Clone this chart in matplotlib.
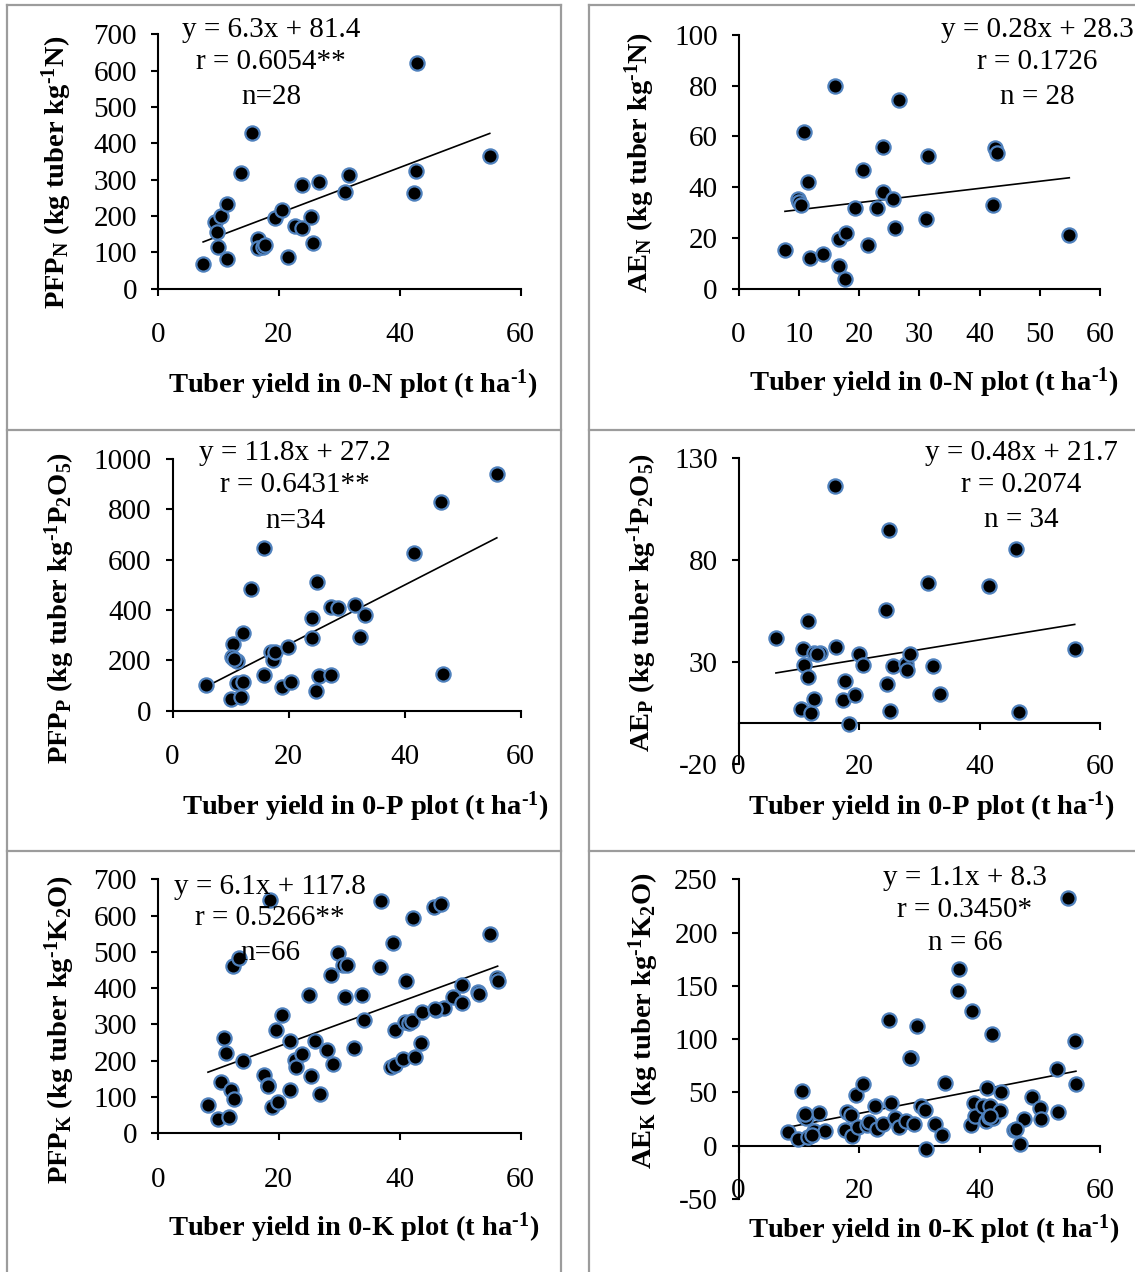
import matplotlib
matplotlib.use("Agg")
import matplotlib.pyplot as plt
from matplotlib.lines import Line2D
import numpy as np

plt.rcParams['font.family'] = ['Liberation Serif', 'DejaVu Serif']
plt.rcParams['mathtext.fontset'] = 'custom'
plt.rcParams['mathtext.rm'] = 'Liberation Serif'
plt.rcParams['mathtext.bf'] = 'Liberation Serif:bold'
plt.rcParams['mathtext.it'] = 'Liberation Serif:italic'
plt.rcParams['axes.unicode_minus'] = False

W, H = 1135, 1272

# ---------------- data ----------------
xN_pfp = [7.5, 9.5, 9.8, 10.0, 10.5, 11.5, 11.5, 13.8, 15.6, 16.6, 16.6, 17.4, 17.7, 19.3,
          20.5, 21.5, 22.7, 23.8, 23.9, 25.4, 25.6, 26.7, 30.9, 31.6, 42.3, 42.7, 42.9, 54.9]
pfpN = [68, 184, 157, 114, 200, 232, 82, 319, 429, 136, 111, 116, 120, 194,
        216, 88, 173, 284, 166, 196, 126, 294, 267, 314, 264, 324, 620, 364]

xN_ae = [7.7, 9.8, 10.0, 10.3, 10.8, 11.6, 11.8, 14.0, 16.0, 16.6, 16.6, 17.6, 17.8, 19.4,
         20.7, 21.5, 22.9, 24.0, 24.0, 25.7, 25.9, 26.7, 31.1, 31.4, 42.2, 42.6, 42.9, 54.9]
aeN = [15.2, 35.2, 34.3, 33, 61.8, 42.1, 12.2, 13.6, 80, 19.4, 9, 3.9, 21.8, 31.6,
       46.7, 17.2, 31.9, 55.8, 38, 35.3, 24, 74.3, 27.6, 52.2, 33.1, 55.2, 53.3, 21.1]

xP_pfp = [5.7, 10.0, 10.4, 10.2, 11.1, 11.2, 11.8, 12.1, 12.2, 13.5, 15.7, 15.8, 17.0, 17.4,
          17.6, 18.8, 19.9, 20.5, 24.0, 24.0, 24.9, 24.7, 25.3, 27.4, 27.3, 28.5, 31.5, 32.3,
          33.2, 41.6, 46.2, 46.7, 55.9, 10.6]
pfpP = [102, 46, 264, 215, 197, 111, 53, 115, 310, 483, 645, 142, 234, 201,
        234, 93, 254, 115, 367, 288, 513, 78, 138, 411, 142, 409, 420, 294,
        380, 625, 830, 144, 939, 205]

xP_ae = [6.2, 10.3, 10.7, 10.9, 11.6, 11.6, 12.0, 12.5, 12.5, 13.5, 16.0, 16.1, 17.3, 17.6,
         18.3, 19.3, 20.0, 20.7, 24.4, 24.6, 25.0, 25.1, 25.6, 27.8, 27.9, 28.4, 31.4, 32.3,
         33.4, 41.6, 46.0, 46.6, 55.8, 13.0]
aeP = [41.7, 6.8, 36.3, 28.6, 50.2, 22.8, 4.9, 11.9, 34.3, 34.3, 116.2, 37.3, 11.4, 20.9,
       -0.5, 13.9, 34, 28.6, 55.4, 19.2, 94.7, 6, 28.1, 28.9, 26.1, 34.2, 68.9, 28,
       14.5, 67.1, 85.5, 5.6, 36.4, 33.8]

xK_pfp = [8.3, 9.9, 10.5, 10.9, 11.2, 11.8, 12.1, 12.6, 12.4, 13.5,
          14.1, 17.6, 18.3, 18.6, 18.9, 19.8, 19.6, 20.6, 21.8, 21.8,
          22.7, 22.8, 23.9, 25.0, 25.4, 26.0, 26.9, 28.0, 28.7, 29.0,
          29.8, 30.6, 31.3, 31.0, 32.5, 33.7, 34.1, 36.7, 36.9, 38.6,
          39.2, 38.9, 39.2, 40.5, 40.8, 41.1, 41.6, 42.0, 42.2, 42.5,
          43.5, 43.7, 45.7, 46.0, 46.9, 47.3, 48.8, 50.3, 50.3, 52.9,
          53.2, 54.9, 56.1, 56.2, 45.9, 18.2]
pfpK = [78, 39, 142, 264, 220, 44, 119, 94, 461, 482,
        199, 161, 133, 644, 72, 85, 286, 326, 118, 255,
        202, 182, 218, 381, 158, 255, 107, 230, 436, 190,
        498, 464, 464, 377, 236, 381, 312, 457, 641, 184,
        188, 525, 285, 204, 306, 420, 305, 310, 592, 211,
        248, 335, 623, 340, 631, 344, 377, 409, 358, 390,
        384, 549, 427, 420, 343, 130]

xK_ae = [8.2, 9.8, 10.5, 10.8, 11.2, 11.6, 12.5, 13.4, 14.3, 17.6,
         18.0, 18.6, 18.8, 19.5, 19.8, 20.6, 21.4, 21.7, 22.6, 22.9,
         24.0, 24.9, 25.3, 25.9, 26.7, 27.8, 28.6, 29.1, 29.6, 30.3,
         31.0, 31.1, 32.6, 33.7, 34.3, 36.5, 36.6, 38.7, 38.6, 39.0,
         39.2, 40.5, 41.0, 41.2, 41.6, 41.7, 42.0, 42.3, 43.4, 43.5,
         45.7, 46.7, 47.3, 48.7, 50.1, 50.2, 52.8, 53.1, 54.7, 55.9,
         56.0, 41.7, 46.1, 11.0, 28.4, 12.2]
aeK = [13, 6.6, 51, 28, 26, 7.8, 14, 31, 14, 15,
       32, 29, 9, 48, 18, 58, 19, 22.5, 37, 16,
       20, 118, 40, 26, 18, 23, 82.6, 20, 112, 37,
       33.5, -3, 20, 10, 59, 145, 166, 126, 19, 40,
       28, 37.5, 23, 54, 27, 37.5, 104.5, 25.7, 32.5, 50,
       14.7, 1.5, 25.3, 45.7, 35.7, 24.7, 72, 31.6, 232, 98.6,
       57.6, 28, 16, 30, 82, 10]

slopes = [6.3, 0.28, 11.8, 0.48, 6.1, 1.1]
intercepts = [81.4, 28.3, 27.2, 21.7, 117.8, 8.3]

eq_lines = [
    ["y = 6.3x + 81.4", "r = 0.6054**", "n=28"],
    ["y = 0.28x + 28.3", "r = 0.1726", "n = 28"],
    ["y = 11.8x + 27.2", "r = 0.6431**", "n=34"],
    ["y = 0.48x + 21.7", "r = 0.2074", "n = 34"],
    ["y = 6.1x + 117.8", "r = 0.5266**", "n=66"],
    ["y = 1.1x + 8.3", "r = 0.3450*", "n = 66"],
]

HY = "\u2010"  # hyphen used in the superscript "-1"
SUP = r"$^{\mathbf{" + HY + r"1}}$"
ylabels = [
    r"PFP$_{\mathbf{N}}$ (kg tuber kg" + SUP + "N)",
    r"AE$_{\mathbf{N}}$ (kg tuber kg" + SUP + "N)",
    r"PFP$_{\mathbf{P}}$ (kg tuber kg" + SUP + r"P$_{\mathbf{2}}$O$_{\mathbf{5}}$)",
    r"AE$_{\mathbf{P}}$ (kg tuber kg" + SUP + r"P$_{\mathbf{2}}$O$_{\mathbf{5}}$)",
    r"PFP$_{\mathbf{K}}$ (kg tuber kg" + SUP + r"K$_{\mathbf{2}}$O)",
    r"AE$_{\mathbf{K}}$ (kg tuber kg" + SUP + r"K$_{\mathbf{2}}$O)",
]
xlabels = [
    "Tuber yield in 0-N plot (t ha" + SUP + ")",
    "Tuber yield in 0-N plot (t ha" + SUP + ")",
    "Tuber yield in 0-P plot (t ha" + SUP + ")",
    "Tuber yield in 0-P plot (t ha" + SUP + ")",
    "Tuber yield in 0-K plot (t ha" + SUP + ")",
    "Tuber yield in 0-K plot (t ha" + SUP + ")",
]

xs = [xN_pfp, xN_ae, xP_pfp, xP_ae, xK_pfp, xK_ae]
ys = [pfpN, aeN, pfpP, aeP, pfpK, aeK]
ylims = [(0, 700), (0, 100), (0, 1000), (-20, 130), (0, 700), (-50, 250)]
yticks = [np.arange(0, 701, 100), np.arange(0, 101, 20), np.arange(0, 1001, 200),
          np.arange(-20, 131, 50), np.arange(0, 701, 100), np.arange(-50, 251, 50)]
xticks = [np.arange(0, 61, 20), np.arange(0, 61, 10), np.arange(0, 61, 20),
          np.arange(0, 61, 20), np.arange(0, 61, 20), np.arange(0, 61, 20)]

# ---------------- layout (pixels) ----------------
boxes = [  # left, right, top, bottom of plot area
    (157.8, 520.6, 34.3, 288.7),
    (738.6, 1100, 34.7, 288.7),
    (172.5, 520.6, 459, 710.7),
    (738.6, 1100, 458.3, 764),
    (157.8, 520.6, 879.3, 1133.3),
    (738.6, 1100, 879.3, 1199),
]
ylab_pos = [(57, 172), (640, 163), (60, 608), (642, 602), (60, 1030), (644, 1021)]
xlab_pos = [(353, 385), (934, 383), (365, 807), (931, 807), (354, 1228), (934, 1230)]
eq_pos = [(271, [30, 62, 97]), (1037, [30, 62, 97]), (295, [453, 485, 521]),
          (1021, [453, 485, 520]), (270, [887, 918, 953]), (965, [878, 910, 943])]
xpads = [19, 19, 19, 17, 19, 18]

fig = plt.figure(figsize=(W / 100, H / 100), dpi=100)

def ftext(px, py, s, **kw):
    return fig.text(px / W, 1 - py / H, s, **kw)

FS = 21
LFS = 20.5

for i in range(6):
    l, r, t, b = boxes[i]
    ax = fig.add_axes([l / W, 1 - b / H, (r - l) / W, (b - t) / H])
    ax.set_xlim(0, 60)
    ax.set_ylim(*ylims[i])
    ax.set_xticks(xticks[i])
    ax.set_yticks(yticks[i])
    for sp in ['top', 'right']:
        ax.spines[sp].set_visible(False)
    ax.spines['bottom'].set_position(('data', 0))
    for sp in ['left', 'bottom']:
        ax.spines[sp].set_linewidth(1.5)
    ax.tick_params(axis='both', direction='out', length=5, width=1.5, labelsize=FS)
    ax.tick_params(axis='x', pad=xpads[i])
    ax.tick_params(axis='y', pad=10)
    ax.patch.set_alpha(0)
    ax.scatter(xs[i], ys[i], s=105, c='black', edgecolors='#4f81bd', linewidths=1.6,
               zorder=3, clip_on=False)
    xmin, xmax = min(xs[i]), max(xs[i])
    lx = np.array([xmin, xmax])
    ax.plot(lx, slopes[i] * lx + intercepts[i], color='black', lw=1.2, zorder=2)

    ftext(*ylab_pos[i], ylabels[i], rotation=90, ha='center', va='center',
          fontsize=LFS, fontweight='bold')
    ftext(*xlab_pos[i], xlabels[i], ha='center', va='center',
          fontsize=LFS, fontweight='bold')
    cx, lys = eq_pos[i]
    for s, yy in zip(eq_lines[i], lys):
        ftext(cx, yy, s, ha='center', va='center', fontsize=FS)

# ---------------- cell borders ----------------
bc = '#9c9c9c'
blw = 1.6
def hline(x0, x1, y):
    fig.add_artist(Line2D([x0 / W, x1 / W], [1 - y / H, 1 - y / H], color=bc, lw=blw))
def vline(x, y0, y1):
    fig.add_artist(Line2D([x / W, x / W], [1 - y0 / H, 1 - y1 / H], color=bc, lw=blw))

for (x0, x1) in [(7, 561), (589, 1140)]:
    for y in [5, 430, 851]:
        hline(x0, x1, y)
vline(7, 5, 1280)
vline(561, 5, 1280)
vline(589, 5, 1280)

fig.savefig("out.png", dpi=100)
